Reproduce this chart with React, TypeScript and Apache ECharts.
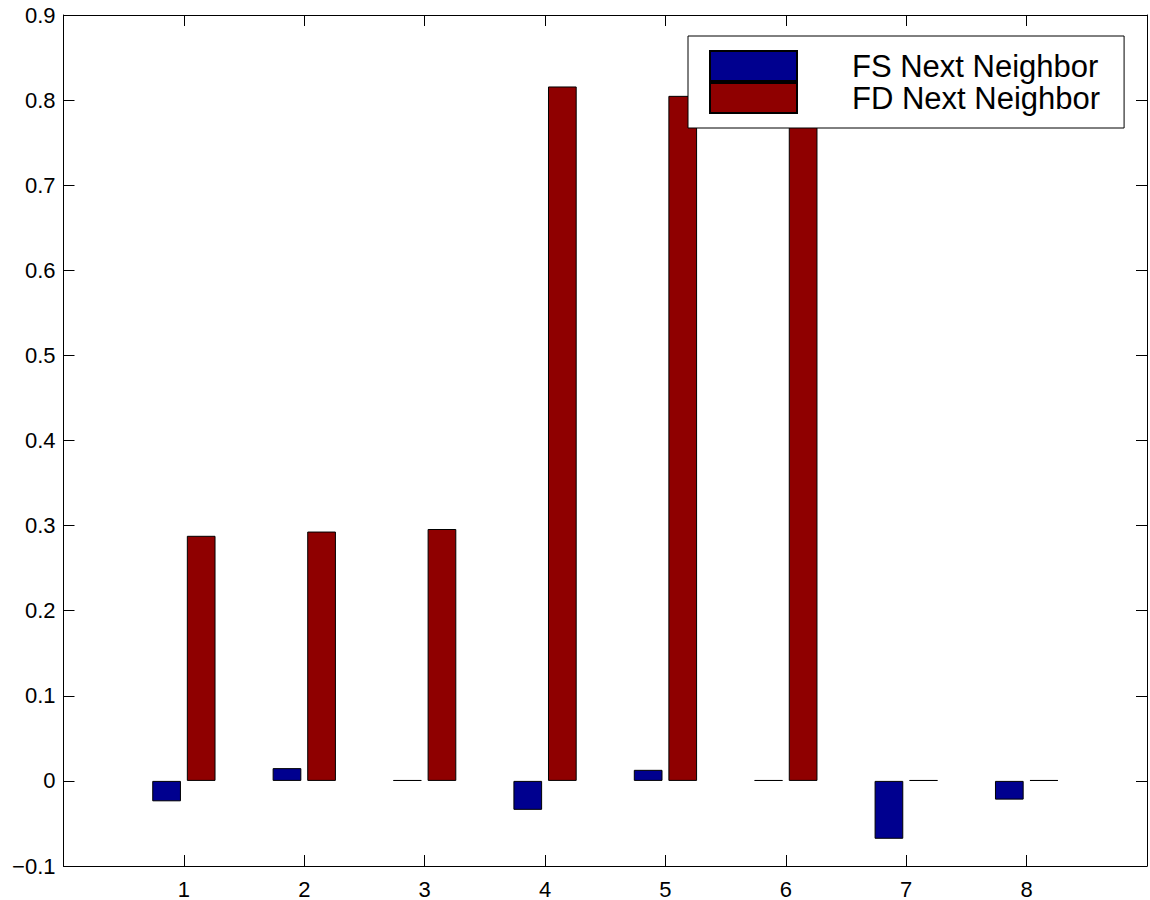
import React, { useEffect, useRef } from "react";
import * as echarts from "echarts";

const groups = [1, 2, 3, 4, 5, 6, 7, 8];
const fsValues = [-0.024, 0.015, 0.001, -0.034, 0.013, 0.001, -0.068, -0.022];
const fdValues = [0.288, 0.293, 0.296, 0.816, 0.805, 0.81, 0.001, 0.001];
const seriesNames = ["FS Next Neighbor", "FD Next Neighbor"];
const yTicks = [-0.1, 0, 0.1, 0.2, 0.3, 0.4, 0.5, 0.6, 0.7, 0.8, 0.9];

const FONT = "'Liberation Sans', Arial, Helvetica, sans-serif";

export default function App() {
  const ref = useRef<HTMLDivElement>(null);
  useEffect(() => {
    if (!ref.current) return;
    const chart = echarts.init(ref.current, undefined, { renderer: "svg" });
    const yFmt = (v: number) => {
      const r = Number(v.toFixed(1));
      if (r === 0) return "0";
      return r < 0 ? "\u2212" + Math.abs(r).toFixed(1) : r.toFixed(1);
    };
    const xFmt = (v: number) => (groups.includes(Math.round(v)) && Math.abs(v - Math.round(v)) < 1e-6 ? String(Math.round(v)) : "");
    const axisLine = { show: true, onZero: false, lineStyle: { color: "#000", width: 1 } };
    const tick = { show: true, inside: true, length: 11, lineStyle: { color: "#000", width: 1 } };
    const option: any = {
      animation: false,
      backgroundColor: "#fff",
      grid: { left: 63.5, right: 1, top: 15, bottom: 33, containLabel: false },
      legend: {
        show: true,
        orient: "vertical",
        left: 688,
        top: 36,
        width: 434,
        padding: [14, 24, 14, 21],
        itemGap: 0,
        itemWidth: 87,
        itemHeight: 30,
        backgroundColor: "#fff",
        borderColor: "#000",
        borderWidth: 1,
        icon: "rect",
        data: seriesNames,
        textStyle: {
          fontFamily: FONT,
          fontSize: 31,
          color: "#000",
          padding: [0, 0, 0, 50],
        },
      },
      xAxis: [
        {
          type: "value",
          min: 0,
          max: 9,
          interval: 1,
          position: "bottom",
          axisLine,
          axisTick: tick,
          splitLine: { show: false },
          axisLabel: { show: true, formatter: xFmt, fontFamily: FONT, fontSize: 22, color: "#000", margin: 12 },
        },
        {
          type: "value",
          min: 0,
          max: 9,
          interval: 1,
          position: "top",
          axisLine,
          axisTick: tick,
          splitLine: { show: false },
          axisLabel: { show: false },
        },
      ],
      yAxis: [
        {
          type: "value",
          min: yTicks[0],
          max: yTicks[yTicks.length - 1],
          interval: 0.1,
          position: "left",
          axisLine,
          axisTick: tick,
          splitLine: { show: false },
          axisLabel: { show: true, formatter: yFmt, fontFamily: FONT, fontSize: 22, color: "#000", margin: 8 },
        },
        {
          type: "value",
          min: yTicks[0],
          max: yTicks[yTicks.length - 1],
          interval: 0.1,
          position: "right",
          axisLine,
          axisTick: tick,
          splitLine: { show: false },
          axisLabel: { show: false },
        },
      ],
      series: [
        {
          name: seriesNames[0],
          type: "bar",
          xAxisIndex: 0,
          yAxisIndex: 0,
          barWidth: 28.7,
          barGap: "20.5%",
          itemStyle: { color: "#00008F", borderColor: "#000", borderWidth: 1 },
          data: groups.map((g, i) => [g, fsValues[i]]),
        },
        {
          name: seriesNames[1],
          type: "bar",
          xAxisIndex: 0,
          yAxisIndex: 0,
          barWidth: 28.7,
          barGap: "20.5%",
          itemStyle: { color: "#8F0000", borderColor: "#000", borderWidth: 1 },
          data: groups.map((g, i) => [g, fdValues[i]]),
        },
      ],
    };
    chart.setOption(option);
    return () => chart.dispose();
  }, []);
  return (
    <div
      ref={ref}
      style={{ position: "fixed", left: 0, top: 0, width: 1150, height: 900, background: "#fff" }}
    />
  );
}
